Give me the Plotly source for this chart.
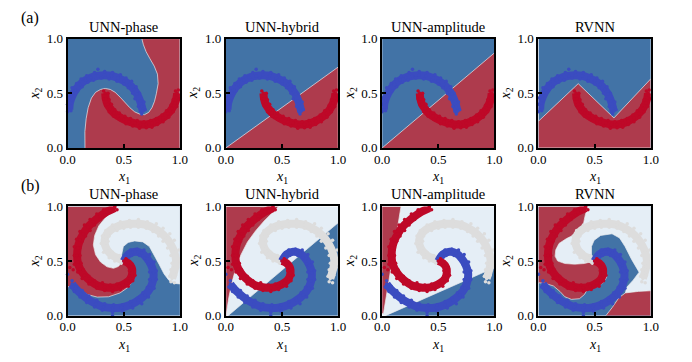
import plotly.graph_objects as go

# ---------------- data ----------------
PANEL_TITLES = ["UNN-phase", "UNN-hybrid", "UNN-amplitude", "RVNN"]
TICK_VALS = [0, 0.5, 1.0]
TICK_TEXT = ["0.0", "0.5", "1.0"]

# (a) two moons: centre lines
BLUE_MOON_X = [0.015, 0.02, 0.04, 0.07, 0.11, 0.16, 0.21, 0.27, 0.33, 0.39, 0.45, 0.5, 0.55, 0.59, 0.62, 0.645, 0.66, 0.67]
BLUE_MOON_Y = [0.35, 0.41, 0.47, 0.53, 0.58, 0.62, 0.645, 0.66, 0.665, 0.66, 0.64, 0.615, 0.58, 0.535, 0.49, 0.43, 0.38, 0.335]
RED_MOON_X = [0.335, 0.34, 0.355, 0.38, 0.41, 0.45, 0.5, 0.55, 0.6, 0.65, 0.7, 0.75, 0.8, 0.85, 0.895, 0.93, 0.955, 0.97, 0.975]
RED_MOON_Y = [0.5, 0.45, 0.4, 0.36, 0.32, 0.29, 0.26, 0.24, 0.225, 0.215, 0.215, 0.225, 0.245, 0.275, 0.315, 0.36, 0.41, 0.46, 0.5]
# (a) scattered samples
BLUE_MOON_PX = [0.0, 0.03, 0.0, 0.035, 0.01, 0.05, 0.04, 0.09, 0.08, 0.13, 0.12, 0.18, 0.17, 0.23, 0.24, 0.27, 0.3, 0.33, 0.37, 0.4, 0.44, 0.47, 0.5, 0.52, 0.54, 0.57, 0.58, 0.61, 0.6, 0.64, 0.63, 0.68, 0.65, 0.69, 0.66]
BLUE_MOON_PY = [0.33, 0.34, 0.4, 0.43, 0.46, 0.5, 0.55, 0.52, 0.59, 0.56, 0.63, 0.6, 0.66, 0.62, 0.69, 0.72, 0.64, 0.7, 0.63, 0.69, 0.61, 0.67, 0.585, 0.64, 0.55, 0.61, 0.5, 0.56, 0.45, 0.5, 0.38, 0.42, 0.33, 0.35, 0.31]
RED_MOON_PX = [0.32, 0.36, 0.32, 0.37, 0.34, 0.39, 0.37, 0.42, 0.41, 0.46, 0.46, 0.51, 0.52, 0.56, 0.58, 0.62, 0.64, 0.68, 0.7, 0.74, 0.75, 0.79, 0.8, 0.84, 0.85, 0.88, 0.9, 0.92, 0.94, 0.94, 0.97, 0.96, 0.99, 0.985, 0.96]
RED_MOON_PY = [0.52, 0.5, 0.45, 0.44, 0.39, 0.4, 0.33, 0.35, 0.29, 0.32, 0.26, 0.29, 0.22, 0.27, 0.2, 0.25, 0.18, 0.24, 0.185, 0.25, 0.19, 0.27, 0.215, 0.3, 0.24, 0.34, 0.28, 0.39, 0.33, 0.44, 0.38, 0.49, 0.45, 0.53, 0.52]

# (b) three spirals: centre lines
RED_SPIRAL_X = [0.5, 0.54, 0.57, 0.575, 0.56, 0.52, 0.46, 0.4, 0.33, 0.26, 0.2, 0.15, 0.11, 0.09, 0.085, 0.09, 0.11, 0.14, 0.18, 0.23, 0.29, 0.35, 0.42]
RED_SPIRAL_Y = [0.5, 0.48, 0.44, 0.39, 0.34, 0.3, 0.27, 0.255, 0.26, 0.28, 0.32, 0.37, 0.43, 0.49, 0.55, 0.62, 0.69, 0.75, 0.81, 0.86, 0.91, 0.95, 0.985]
BLUE_SPIRAL_X = [0.5, 0.54, 0.6, 0.66, 0.71, 0.745, 0.765, 0.76, 0.735, 0.69, 0.63, 0.56, 0.48, 0.4, 0.32, 0.25, 0.18, 0.12, 0.07, 0.04]
BLUE_SPIRAL_Y = [0.5, 0.56, 0.585, 0.57, 0.52, 0.46, 0.39, 0.32, 0.25, 0.19, 0.14, 0.1, 0.075, 0.07, 0.08, 0.11, 0.15, 0.2, 0.25, 0.29]
GRAY_SPIRAL_X = [0.5, 0.45, 0.4, 0.36, 0.335, 0.33, 0.345, 0.38, 0.43, 0.49, 0.56, 0.63, 0.7, 0.77, 0.83, 0.88, 0.92, 0.95, 0.965, 0.96, 0.945, 0.93]
GRAY_SPIRAL_Y = [0.5, 0.525, 0.55, 0.59, 0.64, 0.69, 0.74, 0.78, 0.81, 0.83, 0.84, 0.84, 0.83, 0.8, 0.76, 0.71, 0.65, 0.58, 0.51, 0.45, 0.39, 0.34]
# (b) scattered samples
RED_SPIRAL_PX = [0.52, 0.55, 0.59, 0.55, 0.6, 0.55, 0.58, 0.53, 0.54, 0.49, 0.47, 0.44, 0.4, 0.38, 0.33, 0.31, 0.26, 0.24, 0.19, 0.19, 0.13, 0.14, 0.09, 0.12, 0.06, 0.11, 0.06, 0.11, 0.06, 0.13, 0.08, 0.16, 0.11, 0.2, 0.15, 0.24, 0.2, 0.29, 0.26, 0.33, 0.32, 0.38, 0.42, 0.44, 0.05, 0.02]
RED_SPIRAL_PY = [0.52, 0.46, 0.43, 0.41, 0.37, 0.36, 0.32, 0.32, 0.27, 0.28, 0.24, 0.29, 0.22, 0.28, 0.23, 0.3, 0.25, 0.32, 0.29, 0.36, 0.34, 0.42, 0.4, 0.48, 0.47, 0.55, 0.55, 0.62, 0.63, 0.68, 0.7, 0.73, 0.77, 0.78, 0.83, 0.83, 0.88, 0.88, 0.93, 0.92, 0.97, 0.96, 1.0, 0.97, 0.42, 0.44]
BLUE_SPIRAL_PX = [0.52, 0.56, 0.57, 0.62, 0.64, 0.68, 0.69, 0.73, 0.72, 0.77, 0.73, 0.79, 0.73, 0.79, 0.71, 0.77, 0.67, 0.72, 0.62, 0.66, 0.56, 0.58, 0.49, 0.49, 0.41, 0.4, 0.33, 0.31, 0.26, 0.24, 0.19, 0.17, 0.13, 0.11, 0.08, 0.06, 0.04, 0.03, 0.0, 0.4]
BLUE_SPIRAL_PY = [0.56, 0.6, 0.55, 0.61, 0.55, 0.6, 0.53, 0.56, 0.47, 0.49, 0.4, 0.41, 0.33, 0.33, 0.26, 0.25, 0.21, 0.17, 0.16, 0.11, 0.13, 0.07, 0.1, 0.04, 0.1, 0.03, 0.11, 0.05, 0.14, 0.08, 0.18, 0.12, 0.23, 0.17, 0.27, 0.22, 0.32, 0.26, 0.38, 0.0]
GRAY_SPIRAL_PX = [0.48, 0.46, 0.42, 0.4, 0.37, 0.36, 0.32, 0.36, 0.3, 0.37, 0.31, 0.4, 0.34, 0.44, 0.4, 0.5, 0.47, 0.56, 0.55, 0.63, 0.63, 0.7, 0.71, 0.76, 0.79, 0.81, 0.85, 0.85, 0.91, 0.89, 0.95, 0.92, 0.99, 0.93, 0.99, 0.92, 0.98, 0.91, 0.96, 0.92, 0.95]
GRAY_SPIRAL_PY = [0.48, 0.55, 0.5, 0.58, 0.53, 0.62, 0.58, 0.68, 0.66, 0.73, 0.73, 0.77, 0.78, 0.78, 0.83, 0.8, 0.86, 0.81, 0.87, 0.81, 0.88, 0.8, 0.86, 0.77, 0.84, 0.73, 0.8, 0.68, 0.75, 0.62, 0.69, 0.55, 0.6, 0.48, 0.52, 0.42, 0.44, 0.36, 0.37, 0.31, 0.3]

# decision regions (polygons)
SQUARE_X = [0, 1, 1, 0]
SQUARE_Y = [0, 0, 1, 1]
A1_RED_X = [0.155, 0.154, 0.165, 0.183, 0.212, 0.249, 0.293, 0.336, 0.38, 0.423, 0.467, 0.51, 0.554, 0.597, 0.64, 0.684, 0.722, 0.751, 0.774, 0.791, 0.806, 0.8, 0.771, 0.733, 0.699, 0.675, 0.661, 1, 1]
A1_RED_Y = [0.0, 0.149, 0.266, 0.368, 0.456, 0.509, 0.535, 0.544, 0.535, 0.509, 0.465, 0.412, 0.368, 0.33, 0.31, 0.304, 0.325, 0.368, 0.427, 0.5, 0.588, 0.675, 0.749, 0.816, 0.88, 0.944, 1.0, 1, 0]
A2_RED_X = [0, 1, 1]
A2_RED_Y = [0, 0.74, 0]
A3_RED_X = [0, 1, 1]
A3_RED_Y = [0, 0.87, 0]
A4_RED_X = [0, 0.354, 0.672, 1, 1, 0]
A4_RED_Y = [0.244, 0.588, 0.274, 0.632, 0, 0]

B1_LIGHT_X = [0.438, 0.394, 0.336, 0.278, 0.241, 0.229, 0.249, 0.293, 0.351, 0.409, 0.452, 0.481, 0.481, 0.496, 0.539, 0.597, 0.67, 0.728, 0.771, 0.814, 0.858, 0.901, 0.954, 1, 1]
B1_LIGHT_Y = [1.0, 0.953, 0.895, 0.822, 0.734, 0.646, 0.558, 0.491, 0.447, 0.433, 0.45, 0.485, 0.558, 0.632, 0.67, 0.684, 0.675, 0.632, 0.558, 0.471, 0.383, 0.325, 0.295, 0.29, 1]
B1_RED_X = [0, 0.438, 0.394, 0.336, 0.278, 0.241, 0.229, 0.249, 0.293, 0.351, 0.409, 0.452, 0.481, 0.49, 0.539, 0.574, 0.591, 0.583, 0.539, 0.467, 0.365, 0.264, 0.177, 0.104, 0.046, 0]
B1_RED_Y = [1, 1.0, 0.953, 0.895, 0.822, 0.734, 0.646, 0.558, 0.491, 0.447, 0.433, 0.45, 0.485, 0.494, 0.5, 0.465, 0.398, 0.325, 0.26, 0.208, 0.173, 0.17, 0.193, 0.237, 0.26, 0.266]

B2_RED_X = [0, 0, 0.47, 0.412, 0.339, 0.266, 0.193, 0.135, 0.091, 0.056, 0.026, 0.009, 0.003]
B2_RED_Y = [0, 1, 1, 0.939, 0.865, 0.778, 0.675, 0.558, 0.442, 0.31, 0.164, 0.047, 0]
B2_BLUE_X = [0.02, 1, 1]
B2_BLUE_Y = [0, 0.85, 0]

B3_RED_X = [0, 0.168, 0.012, 0]
B3_RED_Y = [1, 1, 0.02, 0.02]
B3_BLUE_X = [0.03, 1, 1]
B3_BLUE_Y = [0, 0.44, 0]

B4_LIGHT_X = [0.438, 0.414, 0.394, 0.336, 0.249, 0.183, 0.154, 0.148, 0.171, 0.235, 0.322, 0.409, 0.472, 0.49, 0.472, 0.472, 0.496, 0.554, 0.655, 0.722, 0.771, 0.829, 0.896, 0.843, 0.786, 0.774, 0.89, 1, 1]
B4_LIGHT_Y = [1.0, 0.909, 0.807, 0.749, 0.705, 0.661, 0.602, 0.544, 0.5, 0.477, 0.471, 0.477, 0.491, 0.5, 0.558, 0.632, 0.69, 0.734, 0.749, 0.711, 0.632, 0.515, 0.398, 0.325, 0.26, 0.208, 0.222, 0.228, 1]
B4_RED1_X = [0, 0.438, 0.414, 0.394, 0.336, 0.249, 0.183, 0.154, 0.148, 0.171, 0.235, 0.322, 0.409, 0.472, 0.49, 0.525, 0.568, 0.597, 0.606, 0.568, 0.496, 0.438, 0.409, 0.365, 0.293, 0.235, 0.191, 0.133, 0.061, 0]
B4_RED1_Y = [1, 1.0, 0.909, 0.807, 0.749, 0.705, 0.661, 0.602, 0.544, 0.5, 0.477, 0.471, 0.477, 0.491, 0.5, 0.471, 0.442, 0.398, 0.348, 0.295, 0.26, 0.243, 0.193, 0.155, 0.149, 0.173, 0.222, 0.272, 0.295, 0.301]
B4_RED2_X = [0.6, 0.658, 0.716, 0.774, 0.89, 1, 1]
B4_RED2_Y = [0, 0.076, 0.164, 0.208, 0.222, 0.228, 0]

# ---------------- styling ----------------
REG_BLUE = "rgb(66,115,166)"
REG_RED = "rgb(174,59,77)"
REG_LIGHT = "rgb(229,238,246)"
PT_BLUE = "rgb(59,76,192)"
PT_RED = "rgb(190,8,40)"
PT_GRAY = "rgb(221,221,221)"
EDGE = "rgba(238,238,238,0.85)"
SERIF = "Liberation Serif, Times New Roman, serif"

W, H = 692, 362
COLS = [(61, 176), (223, 338), (383, 498), (543, 658)]
ROWS = [(33, 147), (208, 322)]

panels = [
    [(REG_BLUE, SQUARE_X, SQUARE_Y, False), (REG_RED, A1_RED_X, A1_RED_Y, True)],
    [(REG_BLUE, SQUARE_X, SQUARE_Y, False), (REG_RED, A2_RED_X, A2_RED_Y, True)],
    [(REG_BLUE, SQUARE_X, SQUARE_Y, False), (REG_RED, A3_RED_X, A3_RED_Y, True)],
    [(REG_BLUE, SQUARE_X, SQUARE_Y, False), (REG_RED, A4_RED_X, A4_RED_Y, True)],
    [(REG_BLUE, SQUARE_X, SQUARE_Y, False), (REG_LIGHT, B1_LIGHT_X, B1_LIGHT_Y, True), (REG_RED, B1_RED_X, B1_RED_Y, True)],
    [(REG_LIGHT, SQUARE_X, SQUARE_Y, False), (REG_RED, B2_RED_X, B2_RED_Y, True), (REG_BLUE, B2_BLUE_X, B2_BLUE_Y, True)],
    [(REG_LIGHT, SQUARE_X, SQUARE_Y, False), (REG_RED, B3_RED_X, B3_RED_Y, True), (REG_BLUE, B3_BLUE_X, B3_BLUE_Y, True)],
    [(REG_BLUE, SQUARE_X, SQUARE_Y, False), (REG_LIGHT, B4_LIGHT_X, B4_LIGHT_Y, True), (REG_RED, B4_RED1_X, B4_RED1_Y, True), (REG_RED, B4_RED2_X, B4_RED2_Y, True)],
]

moons = [
    (PT_BLUE, BLUE_MOON_X, BLUE_MOON_Y, BLUE_MOON_PX, BLUE_MOON_PY),
    (PT_RED, RED_MOON_X, RED_MOON_Y, RED_MOON_PX, RED_MOON_PY),
]
spirals = [
    (PT_GRAY, GRAY_SPIRAL_X, GRAY_SPIRAL_Y, GRAY_SPIRAL_PX, GRAY_SPIRAL_PY),
    (PT_BLUE, BLUE_SPIRAL_X, BLUE_SPIRAL_Y, BLUE_SPIRAL_PX, BLUE_SPIRAL_PY),
    (PT_RED, RED_SPIRAL_X, RED_SPIRAL_Y, RED_SPIRAL_PX, RED_SPIRAL_PY),
]

fig = go.Figure()
annotations = []
layout_axes = {}

for i in range(8):
    r, c = divmod(i, 4)
    n = i + 1
    xa = "x" if n == 1 else f"x{n}"
    ya = "y" if n == 1 else f"y{n}"
    for color, xs, ys, edge in panels[i]:
        fig.add_trace(go.Scatter(
            x=xs, y=ys, mode="lines", fill="toself", fillcolor=color,
            line=dict(color=EDGE if edge else color, width=0.8 if edge else 0),
            xaxis=xa, yaxis=ya, hoverinfo="skip", showlegend=False))
    clouds = moons if r == 0 else spirals
    for color, cx, cy, px, py in clouds:
        fig.add_trace(go.Scatter(
            x=cx, y=cy, mode="lines", line=dict(color=color, width=8, shape="spline"),
            xaxis=xa, yaxis=ya, hoverinfo="skip", showlegend=False))
        fig.add_trace(go.Scatter(
            x=px + cx, y=py + cy, mode="markers",
            marker=dict(color=color, size=3.5, line=dict(width=0)),
            xaxis=xa, yaxis=ya, hoverinfo="skip", showlegend=False, cliponaxis=False))

    x0, x1 = COLS[c]
    y0, y1 = ROWS[r]
    common = dict(
        range=[0, 1], showgrid=False, zeroline=False, showline=True, mirror=True,
        linecolor="black", linewidth=2, ticks="inside", ticklen=4, tickwidth=1.5,
        tickcolor="black", tickvals=TICK_VALS, ticktext=TICK_TEXT,
        tickfont=dict(family=SERIF, size=13, color="black"), fixedrange=True)
    layout_axes["xaxis" if n == 1 else f"xaxis{n}"] = dict(
        domain=[x0 / W, x1 / W], anchor=ya, ticklabelstandoff=-2, **common)
    layout_axes["yaxis" if n == 1 else f"yaxis{n}"] = dict(
        domain=[1 - y1 / H, 1 - y0 / H], anchor=xa, **common)

    xc = (x0 + x1) / 2
    annotations.append(dict(text=PANEL_TITLES[c], x=xc / W, y=1 - (y0 - 12.5) / H,
                            xref="paper", yref="paper", showarrow=False, xanchor="center", yanchor="middle",
                            font=dict(family=SERIF, size=14.5, color="black")))
    annotations.append(dict(text="<i>x</i><sub>1</sub>", x=xc / W, y=1 - (y1 + 31) / H,
                            xref="paper", yref="paper", showarrow=False, xanchor="center", yanchor="middle",
                            font=dict(family=SERIF, size=14, color="black")))
    annotations.append(dict(text="<i>x</i><sub>2</sub>", x=(x0 - 33) / W, y=1 - ((y0 + y1) / 2) / H,
                            xref="paper", yref="paper", showarrow=False, xanchor="center", yanchor="middle",
                            textangle=-90, font=dict(family=SERIF, size=14, color="black")))

annotations.append(dict(text="(a)", x=23 / W, y=1 - 11 / H, xref="paper", yref="paper", showarrow=False,
                        xanchor="center", yanchor="middle", font=dict(family=SERIF, size=16, color="black")))
annotations.append(dict(text="(b)", x=23 / W, y=1 - 187 / H, xref="paper", yref="paper", showarrow=False,
                        xanchor="center", yanchor="middle", font=dict(family=SERIF, size=16, color="black")))

fig.update_layout(
    width=W, height=H, margin=dict(l=0, r=0, t=0, b=0),
    paper_bgcolor="white", plot_bgcolor="white", showlegend=False,
    font=dict(family=SERIF, color="black"),
    annotations=annotations, **layout_axes)

fig.write_html("out.html", config={"displayModeBar": False})
